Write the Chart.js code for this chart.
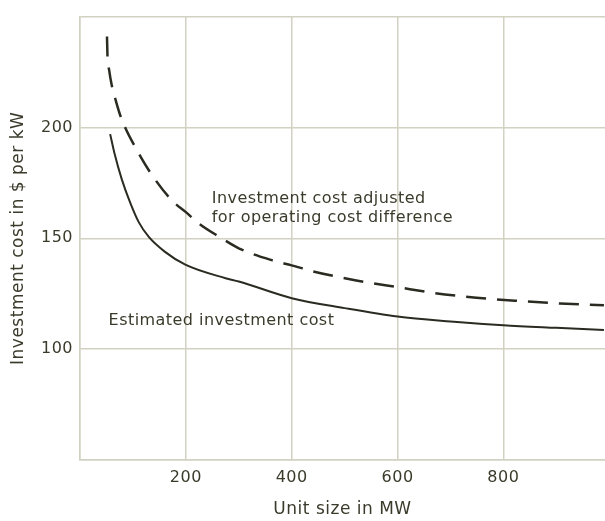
<!DOCTYPE html>
<html>
<head>
<meta charset="utf-8">
<script src="https://cdn.jsdelivr.net/npm/chart.js@4/dist/chart.umd.min.js"></script>
<style>
html,body{margin:0;padding:0;background:#fff;}
#wrap{width:605px;height:521px;position:relative;}
</style>
</head>
<body>
<div id="wrap"><canvas id="c" width="605" height="521"></canvas></div>
<script>
// Data
const estimatedX = [57, 65, 79, 95, 111, 130, 160, 199, 275, 300, 400, 500, 600, 700, 800, 900, 990];
const estimatedY = [197, 188.5, 176.6, 166, 157.3, 150.6, 144, 138.1, 132, 130.5, 123, 118.5, 114.7, 112.5, 110.8, 109.6, 108.6];
const adjustedX = [51, 52, 55, 60, 65, 76, 86, 100, 133, 174, 200, 225, 263, 300, 364, 400, 440, 522, 604, 670, 749, 825, 907, 990];
const adjustedY = [241, 232, 226, 219, 214.4, 205.5, 199.6, 193, 179.6, 167, 161.8, 156.6, 150.7, 145.5, 140, 137.8, 135.1, 131, 127.8, 125.3, 123.2, 121.8, 120.6, 119.8];
const xTicks = [200, 400, 600, 800];
const yTicks = [100, 150, 200];
const labels = [
  {text: 'Investment cost adjusted', x: 249, y: 165.8},
  {text: 'for operating cost difference', x: 249, y: 157.3},
  {text: 'Estimated investment cost', x: 54, y: 110.7}
];

const textColor = '#3b3b2c';
const gridColor = '#d2d2c2';
const lineColor = '#2b2b22';
const FONT = "'DejaVu Sans', sans-serif";

const toPts = (xs, ys) => xs.map((x, i) => ({x: x, y: ys[i]}));

const spacingPlugin = {
  id: 'spacing',
  beforeLayout(chart) { chart.ctx.letterSpacing = '0.5px'; },
  beforeDraw(chart) { chart.ctx.letterSpacing = '0.5px'; }
};

const textPlugin = {
  id: 'curveLabels',
  afterDatasetsDraw(chart) {
    const ctx = chart.ctx;
    const xs = chart.scales.x, ys = chart.scales.y;
    ctx.save();
    ctx.letterSpacing = '0.45px';
    ctx.fillStyle = textColor;
    ctx.font = '16px ' + FONT;
    ctx.textAlign = 'left';
    ctx.textBaseline = 'alphabetic';
    labels.forEach(l => ctx.fillText(l.text, xs.getPixelForValue(l.x), ys.getPixelForValue(l.y)));
    ctx.restore();
  }
};

new Chart(document.getElementById('c'), {
  type: 'line',
  data: {
    datasets: [
      {
        label: 'Estimated investment cost',
        data: toPts(estimatedX, estimatedY),
        borderColor: lineColor,
        borderWidth: 2,
        pointRadius: 0,
        fill: false,
        cubicInterpolationMode: 'monotone'
      },
      {
        label: 'Investment cost adjusted for operating cost difference',
        data: toPts(adjustedX, adjustedY),
        borderColor: lineColor,
        borderWidth: 2.5,
        borderDash: [20, 11],
        pointRadius: 0,
        fill: false,
        cubicInterpolationMode: 'monotone'
      }
    ]
  },
  options: {
    responsive: false,
    animation: false,
    layout: {padding: {top: 11, right: 0, left: 0, bottom: 0}},
    plugins: {legend: {display: false}, tooltip: {enabled: false}},
    scales: {
      x: {
        type: 'linear',
        min: 0,
        max: 992,
        afterBuildTicks(s) { s.ticks = [0].concat(xTicks).map(v => ({value: v})); },
        afterFit(s) { s.height = 61; },
        grid: {color: gridColor, lineWidth: 1.5, drawTicks: false},
        border: {color: gridColor, width: 1.5},
        ticks: {
          color: textColor,
          font: {family: FONT, size: 16},
          padding: 8,
          maxRotation: 0,
          callback: v => (xTicks.includes(v) ? String(v) : '')
        },
        title: {
          display: true,
          text: 'Unit size in MW',
          color: textColor,
          font: {family: FONT, size: 17},
          padding: {top: 0, bottom: 1}
        }
      },
      y: {
        type: 'linear',
        min: 50,
        max: 250,
        afterBuildTicks(s) { s.ticks = [50].concat(yTicks, [250]).map(v => ({value: v})); },
        afterFit(s) { s.width = 80; },
        grid: {color: gridColor, lineWidth: 1.5, drawTicks: false},
        border: {color: gridColor, width: 1.5},
        ticks: {
          color: textColor,
          font: {family: FONT, size: 16},
          padding: 7,
          callback: v => (yTicks.includes(v) ? String(v) : '')
        },
        title: {
          display: true,
          text: 'Investment cost in $ per kW',
          color: textColor,
          font: {family: FONT, size: 17},
          padding: {top: 8, bottom: 0}
        }
      }
    }
  },
  plugins: [spacingPlugin, textPlugin]
});
</script>
</body>
</html>
